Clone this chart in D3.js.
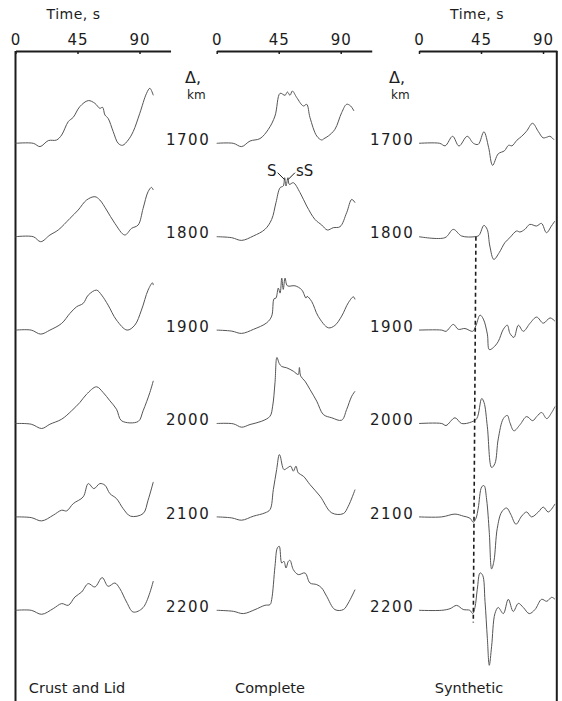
<!DOCTYPE html>
<html>
<head>
<meta charset="utf-8">
<script src="https://cdn.jsdelivr.net/npm/d3@7"></script>
<style>
body{margin:0;background:#fff;}
svg{display:block;}
text{font-family:"DejaVu Sans",sans-serif;fill:#1c1c1c;}
</style>
</head>
<body>
<svg id="graphique" width="562" height="701"></svg>
<script>
//// donnees : [temps (s), amplitude]
var distances = [1700, 1800, 1900, 2000, 2100, 2200];
var timeTicks = [0, 45, 90];
var panelTitles = ["Crust and Lid", "Complete", "Synthetic"];

var crustLid = [
	[[0,0],[12.9,0],[17.8,-3.3],[23.8,2.7],[29.8,3.3],[33.5,8.3],[38.3,21.7],[41.9,26],[46.7,36.7],[52.8,42.7],[57.6,40],[61.2,35],[63.2,36],[64.9,28.3],[67.2,25],[70.9,11.7],[74.5,0],[77.7,-2],[81.8,3.3],[85.4,11.7],[90.2,30],[95.1,50],[97.5,55],[100,48]],
	[[0,0],[12.9,0],[18.3,-5],[25,1.7],[31,6.7],[39.5,18.3],[45.5,26.7],[51.6,36.7],[57.6,40],[61.2,36.7],[66.1,26.7],[72.1,13.3],[79.3,1.7],[84.2,8.3],[89,11.7],[92.6,28.3],[96.2,45],[98.7,49.3],[100,46.7]],
	[[0,0],[11.4,0],[18.3,-4],[25,0],[33.5,6.7],[39.5,16.7],[44.3,23.3],[49.1,26.7],[52.8,35],[58.8,40],[62.5,35],[67.2,25],[73.3,10],[81,0],[86.6,5],[91.4,20],[96.2,40],[99.4,47.3],[100,45]],
	[[0,0],[11.4,-0.7],[19,-5],[25,-0.7],[33.5,4.3],[40.7,12.7],[46.7,21],[51.6,29.3],[58.8,36.7],[63.6,31],[68.5,22.7],[73.3,14.3],[77,2.7],[89,2],[92.6,12.7],[97.5,31],[100,42.7]],
	[[0,0],[11.4,-0.7],[19,-4],[27.4,1.7],[33.5,6.7],[37.1,6],[41.9,13.3],[49.1,20],[52.8,33.3],[56.9,28.3],[61.2,33.3],[64.9,31.7],[68.5,23.3],[73.3,18.3],[78.1,8.3],[83.5,0.7],[92.6,3.3],[96.2,16.7],[100,35]],
	[[0,0],[11.4,0],[19,-4],[27.4,1.7],[33.5,6.7],[38.3,5],[43.1,13.3],[48,18.3],[52.8,26.7],[57.6,23.3],[62.9,32.7],[67.2,24],[72.1,27.3],[75.7,21.7],[80.6,8.3],[85.4,-1.7],[92.6,2.7],[100,29.3]]
];

var complete = [
	[[0,0],[12,0],[18.1,-3.3],[24.2,2.3],[31.4,4.7],[37.5,14],[42.3,27.3],[46,50],[49.6,48],[51.3,51.3],[53.2,48],[54.9,52.3],[58.1,45.7],[62.9,37.3],[65.3,39],[67.7,25.7],[72.6,7.3],[76.2,3.3],[77.9,4.7],[81,7.3],[85.8,14],[90.7,30.7],[94.3,39],[97.2,37.3],[99.6,32.3]],
	[[0,0],[10.9,-1],[18.1,-3.7],[26.6,0.7],[35,7.3],[39.9,17.3],[43,34],[46,49],[48.3,50.7],[49.3,59],[50.3,50.7],[51.7,59],[52.7,52.3],[55.6,54],[60.5,44],[65.3,30.7],[71.3,17.3],[76.2,11.7],[80.3,6.7],[84.6,9],[89.5,10],[94.3,24],[98,37.3],[100.4,34]],
	[[0,0],[10.9,-1],[18.1,-3.3],[26.6,0.7],[36.3,7.3],[39.9,14],[41.6,31.3],[43,32],[44.7,42],[46,37],[47.2,52],[48.3,40.7],[49.6,52],[51.3,44.3],[56.8,44.3],[61.7,40.3],[64.8,32],[65.6,33.7],[68.9,28.7],[73.7,13.7],[81,2.3],[85.8,4.7],[90.7,14],[95.5,27.3],[99.2,33.3],[100.4,30.7]],
	[[0,0],[12,-0.3],[18.1,-3.7],[24.2,-1],[32.7,2.3],[38.7,7.3],[40.6,17.3],[42.3,40.7],[43.7,66],[45.4,60],[47.2,57],[50.8,55.7],[55.6,52.3],[59.2,49],[60,56],[61,47.3],[64.1,42.3],[67.7,34],[72.6,22.3],[77.4,9],[83.5,5.7],[90.7,3.3],[94.3,14],[98,27.3],[100.4,32.3]],
	[[0,0],[10.9,-1],[18.1,-3.3],[26.6,0.7],[35,4],[38.7,7.3],[41.1,27.3],[43.5,47.3],[45.4,62.3],[46,61.3],[48.8,47.3],[51.3,49],[53.7,50.7],[55.6,45.7],[57.5,50.7],[59.2,44],[62.9,40.7],[67.7,32.3],[75,20.7],[83.5,4],[91.9,3.3],[95.5,10.7],[100.4,27.3]],
	[[0,0],[12,-1],[19.3,-3.3],[27.8,0.7],[35,5],[38.7,5.7],[39.9,10.7],[42.3,44],[44,62.3],[45.4,64],[47.2,47.3],[48.8,49],[50.3,42.3],[52,49],[53.2,50],[55.6,40.7],[59.2,35.7],[64.1,37.3],[67.7,27.3],[72.6,25.7],[76.2,22.3],[79.8,14],[85.8,0.7],[91.9,0.7],[95.5,7.3],[100.4,20.7]]
];

var synthetic = [
	[[0,0],[15,0],[19,-2.5],[24.4,7],[29,-2.7],[35,7],[39.5,0],[43,-1],[47.1,11.5],[50.5,-4],[53.4,-22],[57.5,-10.5],[62,-7.5],[65,-2],[67.5,-2.5],[71,3],[74.5,7],[78,12],[82.4,20],[86.5,12],[90,5.5],[92.5,6],[95,7],[98,3.5]],
	[[0,0],[18.8,-1],[24.9,7.3],[30.9,0.7],[40.6,0],[43.5,1.3],[47.1,11.3],[49.5,7.3],[51.4,-9.3],[54.3,-22.7],[58.2,-16],[62.3,-6],[65.9,-1],[70.8,5.7],[73.2,4.7],[76.8,7.3],[80.4,12.3],[85.3,10.7],[88.9,13.3],[92.5,4],[96.1,10.7],[98.6,15.7]],
	[[0,0],[16.5,0],[19.6,-1.2],[24.9,5.7],[28.5,0.8],[33.4,1.6],[39,-1.2],[41.4,4.9],[44.3,15],[46.7,11],[49.6,-4],[51,-19.5],[53.9,-17.5],[57.5,-11.4],[61.2,0.8],[64.1,4.9],[66,-3.3],[68.9,-7.3],[72.1,4.9],[75.7,-1.2],[80.6,6.9],[85.4,13],[90.2,6.9],[95.1,12.2],[98.7,8.9]],
	[[0,0],[16.5,0],[19.6,-2],[26.1,5.7],[30.9,0],[38.2,1.6],[41.9,4.9],[45.5,25],[47.2,21],[49.6,-3.3],[52.7,-44],[55.1,-40],[57.5,-15.4],[61.2,4.9],[64.1,8.1],[66,0.8],[68.9,-7.3],[73.3,-1.2],[78.1,6.9],[82.5,2.8],[85.4,6.9],[89,11],[92.7,4.9],[96.3,11],[98.7,17]],
	[[0,0],[16.5,0],[26.1,2.8],[32.1,0.8],[36.9,-1.2],[39.4,-5.3],[41.4,-1.2],[43,8.9],[45.5,30],[47.2,31.3],[49.1,17],[51,-15.4],[52.7,-52],[54.4,-44],[56.8,-11.4],[60,4.9],[63.6,8.9],[66.5,2.8],[70.4,-7.3],[74.5,0.8],[78.1,4.9],[81.7,0],[86.6,4.9],[90.2,9.8],[93.8,4.9],[98.7,13]],
	[[0,0],[16.5,0],[22.5,1.6],[27.3,4.9],[32.1,0.8],[36.9,0],[39,-3.3],[40.6,2.8],[42.3,21],[44.3,37.4],[46.2,35],[47.9,9],[49.6,-28],[51,-55],[52.7,-36],[55.1,-3.3],[57.5,2.8],[61.2,-3.3],[64.8,11],[68.4,-1.2],[72.1,6.9],[75.7,2.8],[80,-3.3],[84.2,0.8],[89,11],[92.7,9],[96.3,13],[98.7,11]]
];

// ligne pointillee de l'arrivee S (distance, temps)
var arrivalLine = [[1800, 41.3], [2213, 39.4]];
// pics S et sS sur la trace 1800 "Complete"
var phaseLabels = [{name: "S", t: 49.3, a: 57}, {name: "sS", t: 51.7, a: 57}];

var graphique = d3.select("#graphique");
var PX_PER_S = 1.378;
var AXIS_Y = 51;

var yDist = d3.scaleLinear().domain([1700, 2200]).range([143.3, 610.3]);
var amp = d3.scaleLinear().domain([0, 10]).range([0, -10]);

var panels = [
	{x0: 15.5, tmax: 112.5, traces: crustLid, title: panelTitles[0], titleX: 77, showTime: true},
	{x0: 216.7, tmax: 112.5, traces: complete, title: panelTitles[1], titleX: 270, showTime: false},
	{x0: 419, tmax: 100, traces: synthetic, title: panelTitles[2], titleX: 469, showTime: true}
];

//// cadre gauche et droit
graphique.append("line")
	.attr("x1", 15.5).attr("x2", 15.5)
	.attr("y1", AXIS_Y).attr("y2", 701)
	.attr("stroke", "#1c1c1c").attr("stroke-width", 2);
graphique.append("line")
	.attr("x1", 556.8).attr("x2", 556.8)
	.attr("y1", AXIS_Y).attr("y2", 701)
	.attr("stroke", "#1c1c1c").attr("stroke-width", 2);

panels.forEach(function(p){
	var xScale = d3.scaleLinear().domain([0, p.tmax]).range([p.x0, p.x0 + p.tmax * PX_PER_S]);
	p.xScale = xScale;

	var xAxis = d3.axisTop(xScale)
		.tickValues(timeTicks)
		.tickSizeInner(-3)
		.tickSizeOuter(0)
		.tickPadding(6);

	var g = graphique.append("g")
		.attr("transform", "translate(0," + AXIS_Y + ")")
		.call(xAxis);
	g.select(".domain").attr("stroke", "#1c1c1c").attr("stroke-width", 2);
	g.selectAll(".tick line").attr("stroke", "#1c1c1c").attr("stroke-width", 1.5);
	g.selectAll(".tick text")
		.attr("font-family", "DejaVu Sans, sans-serif")
		.attr("font-size", 15)
		.attr("letter-spacing", 1)
		.attr("fill", "#1c1c1c");

	if(p.showTime){
		graphique.append("text")
			.attr("x", xScale(45) - 4)
			.attr("y", 19)
			.attr("text-anchor", "middle")
			.attr("font-size", 14)
			.attr("letter-spacing", 0.5)
			.text("Time, s");
	}

	var line = d3.line()
		.curve(d3.curveCatmullRom.alpha(0.5))
		.x(function(d){ return xScale(d[0]); });

	p.traces.forEach(function(trace, i){
		var base = yDist(distances[i]);
		line.y(function(d){ return base + amp(d[1]); });
		graphique.append("path")
			.attr("d", line(trace))
			.attr("fill", "none")
			.attr("stroke", "#555")
			.attr("stroke-width", 1);
	});

	graphique.append("text")
		.attr("x", p.titleX)
		.attr("y", 693)
		.attr("text-anchor", "middle")
		.attr("font-size", 14.5)
		.text(p.title);
});

//// etiquettes de distance
[166, 370].forEach(function(lx){
	graphique.append("text")
		.attr("x", lx + 19).attr("y", 83)
		.attr("font-size", 16)
		.text("\u0394,");
	graphique.append("text")
		.attr("x", lx + 21).attr("y", 99)
		.attr("font-size", 12)
		.text("km");

	distances.forEach(function(d){
		graphique.append("text")
			.attr("x", lx)
			.attr("y", yDist(d) + 1.7)
			.attr("font-size", 15)
			.attr("letter-spacing", 1.5)
			.text(d);
	});
});

//// ligne pointillee
var xs = panels[2].xScale;
var dashLine = d3.line()
	.x(function(d){ return xs(d[1]); })
	.y(function(d){ return yDist(d[0]); });
graphique.append("path")
	.attr("d", dashLine(arrivalLine))
	.attr("fill", "none")
	.attr("stroke", "#1c1c1c")
	.attr("stroke-width", 1.6)
	.attr("stroke-dasharray", "4,3");

//// annotations S / sS
var xm = panels[1].xScale;
var base1800 = yDist(1800);
phaseLabels.forEach(function(ph, i){
	var tipX = xm(ph.t);
	var tipY = base1800 + amp(ph.a);
	var dir = i == 0 ? -1 : 1;
	graphique.append("line")
		.attr("x1", tipX).attr("y1", tipY)
		.attr("x2", tipX + dir * 7).attr("y2", tipY - 7)
		.attr("stroke", "#1c1c1c").attr("stroke-width", 1);
	graphique.append("text")
		.attr("x", tipX + dir * 8)
		.attr("y", tipY - 4)
		.attr("text-anchor", i == 0 ? "end" : "start")
		.attr("font-size", 15)
		.text(ph.name);
});
</script>
</body>
</html>
